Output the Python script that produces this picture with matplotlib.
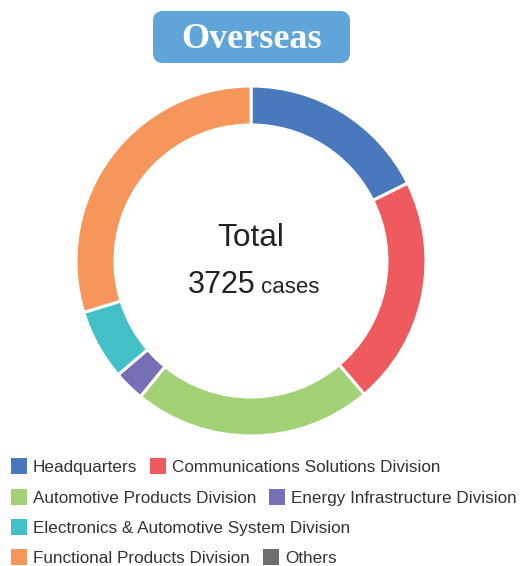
import matplotlib
matplotlib.use("Agg")
import matplotlib.pyplot as plt
from matplotlib.patches import FancyBboxPatch, Rectangle

# ---- data ----
categories = ["Headquarters", "Communications Solutions Division",
              "Automotive Products Division", "Energy Infrastructure Division",
              "Electronics & Automotive System Division",
              "Functional Products Division", "Others"]
values = [658, 787, 823, 106, 243, 1108, 0]
colors = ["#4A78BD", "#EF5A5E", "#A3D176", "#7570B6", "#42C0C6", "#F7965A", "#6D6E71"]
title = "Overseas"
total_label = "Total"
unit_label = "cases"
legend_rows = [[0, 1], [2, 3], [4], [5, 6]]

W, H = 521, 566
fig = plt.figure(figsize=(W / 100, H / 100), dpi=100)
ax = fig.add_axes([0, 0, 1, 1])

font = "Liberation Sans"

# donut (y axis inverted: counterclock=True appears clockwise)
nz = [(v, c) for v, c in zip(values, colors) if v > 0]
ax.pie([v for v, _ in nz], colors=[c for _, c in nz], center=(251, 261), radius=175,
       startangle=-90, counterclock=True,
       wedgeprops=dict(width=39, edgecolor="white", linewidth=2.2), frame=True)
ax.set_xlim(0, W)
ax.set_ylim(H, 0)
ax.set_aspect("equal")
ax.axis("off")

# center texts
ax.text(251, 246, total_label, ha="center", va="baseline", fontsize=22.8,
        family=font, color="#222222")
ax.text(188, 293, f"{sum(values)}", ha="left", va="baseline", fontsize=22,
        family=font, color="#222222")
ax.text(261, 293, unit_label, ha="left", va="baseline", fontsize=16,
        family=font, color="#222222")

# title box
box = FancyBboxPatch((153, 11), 197, 52, boxstyle="round,pad=0,rounding_size=10",
                     facecolor="#5FA5DA", edgecolor="none")
ax.add_patch(box)
ax.text(252, 48.5, title, ha="center", va="baseline", fontsize=26,
        family="Liberation Serif", fontweight="bold", color="white")

# legend (flow layout)
fig.canvas.draw()
renderer = fig.canvas.get_renderer()
row_y = [466, 497, 527, 557]
for r, idxs in enumerate(legend_rows):
    x = 11
    for i in idxs:
        ax.add_patch(Rectangle((x, row_y[r] - 8), 16, 16, facecolor=colors[i], edgecolor="none"))
        t = ax.text(x + 22, row_y[r], categories[i], ha="left", va="center_baseline",
                    fontsize=12.3, family=font, color="#333333")
        bb = t.get_window_extent(renderer=renderer)
        x = x + 22 + bb.width + 13

fig.savefig("out.png", dpi=100)
